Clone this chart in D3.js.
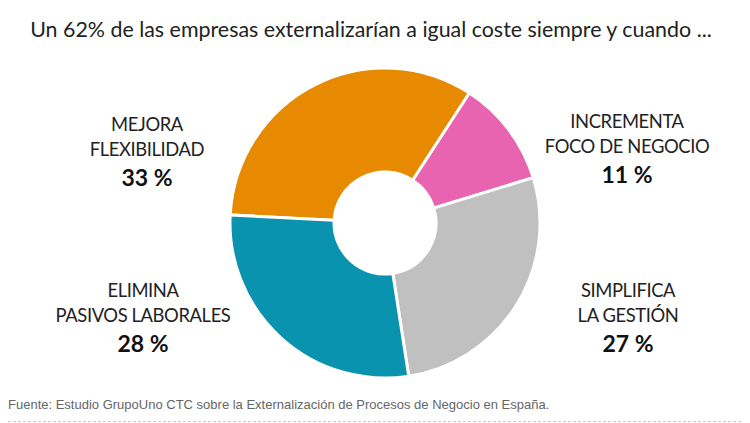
<!DOCTYPE html>
<html><head><meta charset="utf-8">
<script src="https://cdn.jsdelivr.net/npm/d3@7"></script>
<style>html,body{margin:0;padding:0;background:#fff;}</style>
</head><body>
<svg id="chart" width="750" height="423"></svg>
<script>
const categories = ["MEJORA FLEXIBILIDAD", "INCREMENTA FOCO DE NEGOCIO", "SIMPLIFICA LA GESTIÓN", "ELIMINA PASIVOS LABORALES"];
const labelLines = [["MEJORA", "FLEXIBILIDAD"], ["INCREMENTA", "FOCO DE NEGOCIO"], ["SIMPLIFICA", "LA GESTIÓN"], ["ELIMINA", "PASIVOS LABORALES"]];
const values = [33, 11, 27, 28];
const colors = ["#E88A00", "#E863B0", "#C0C0C0", "#0A93AE"];
const title = "Un 62% de las empresas externalizarían a igual coste siempre y cuando ...";
const source = "Fuente: Estudio GrupoUno CTC sobre la Externalización de Procesos de Negocio en España.";

const svg = d3.select("#chart");
const cx = 385, cy = 223, rOuter = 155, rInner = 51;

svg.append("text").attr("x", 371).attr("y", 37).attr("text-anchor", "middle")
  .attr("font-family", "Lato, 'Open Sans', sans-serif").attr("font-size", 21.4).attr("fill", "#222")
  .text(title);

const start = -87 * Math.PI / 180;
const pie = d3.pie().sort(null).startAngle(start).endAngle(start + 2 * Math.PI);
const arc = d3.arc().innerRadius(rInner).outerRadius(rOuter);
const g = svg.append("g").attr("transform", `translate(${cx},${cy})`);
g.selectAll("path").data(pie(values)).join("path")
  .attr("d", arc).attr("fill", (d, i) => colors[i])
  .attr("stroke", "#fff").attr("stroke-width", 3);

const labelPos = [[147, 131], [627, 128], [628, 297], [143, 297]];
labelPos.forEach((p, i) => {
  const t = svg.append("g");
  labelLines[i].forEach((ln, j) => {
    t.append("text").attr("x", p[0]).attr("y", p[1] + j * 25).attr("text-anchor", "middle")
      .attr("font-family", "Lato, 'Open Sans', sans-serif").attr("font-size", 18.4)
      .attr("letter-spacing", -0.4).attr("fill", "#222")
      .text(ln);
  });
  t.append("text").attr("x", p[0]).attr("y", p[1] + 55).attr("text-anchor", "middle")
    .attr("font-family", "Lato, 'Open Sans', sans-serif").attr("font-size", 23).attr("font-weight", "bold").attr("fill", "#111")
    .text(values[i] + " %");
});

svg.append("text").attr("x", 8).attr("y", 409)
  .attr("font-family", "Arial, 'Liberation Sans', sans-serif").attr("font-size", 13).attr("fill", "#666")
  .text(source);
svg.append("line").attr("x1", 8).attr("x2", 742).attr("y1", 421.5).attr("y2", 421.5)
  .attr("stroke", "#ccc").attr("stroke-dasharray", "3,2");
</script>
</body></html>
